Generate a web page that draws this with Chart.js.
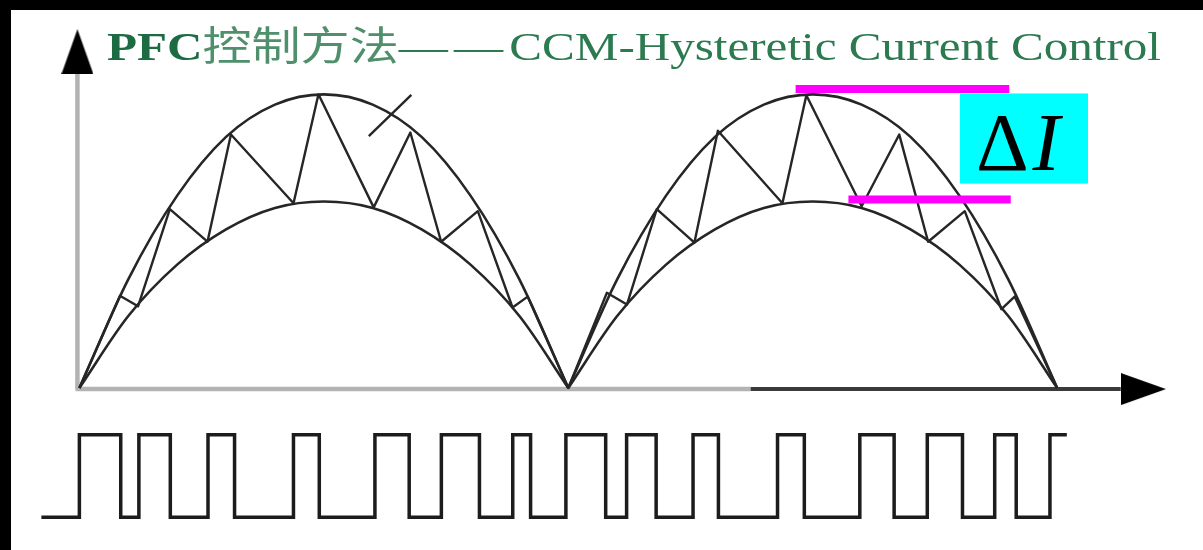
<!DOCTYPE html>
<html>
<head>
<meta charset="utf-8">
<script src="https://cdn.jsdelivr.net/npm/chart.js@4.4.1/dist/chart.umd.min.js"></script>
<style>
    html, body {
        margin: 0;
        padding: 0;
        background: #000;
    }

    #cadre {
        position: absolute;
        left: 0;
        top: 0;
        width: 1203px;
        height: 550px;
        box-sizing: border-box;
        background: #fff;
        border-left: 11px solid #000;
        border-top: 10px solid #000;
    }

    #graphique {
        position: absolute;
        left: 0;
        top: 0;
    }

    #titre {
        position: absolute;
        left: 107px;
        top: 23px;
        font: 40px/40px "Liberation Serif", "Noto Sans CJK SC", serif;
        color: #2b7a50;
        white-space: nowrap;
        transform-origin: 0 0;
    }

    #titre .gras {
        font-weight: bold;
        color: #1d6b42;
    }

    #titre .cjk {
        font-family: "Noto Sans CJK SC", sans-serif;
        color: #4f8f6c;
    }

    #titre .tirets {
        letter-spacing: 5px;
    }
</style>
</head>
<body>
<div id="cadre"></div>
<canvas id="graphique" width="1203" height="550"></canvas>
<div id="titre"><span class="gras">PFC</span><span class="cjk">控制方法</span><span class="tirets">——</span>CCM-Hysteretic Current Control</div>

<script>
// time in ms (two rectified half cycles), current normalised to the upper peak
const envTimeA = [0, 1, 2, 3, 4, 5, 6, 7, 8, 9, 10];
const envTimeB = [10, 11, 12, 13, 14, 15, 16, 17, 18, 19, 20];
const upperEnvA = [0, 0.37, 0.655, 0.855, 0.965, 1.0, 0.965, 0.855, 0.655, 0.37, 0];
const upperEnvB = [0, 0.37, 0.655, 0.855, 0.965, 1.0, 0.965, 0.855, 0.655, 0.37, 0];
const lowerEnvA = [0, 0.245, 0.42, 0.54, 0.613, 0.635, 0.613, 0.54, 0.42, 0.245, 0];
const lowerEnvB = [0, 0.245, 0.42, 0.54, 0.613, 0.635, 0.613, 0.54, 0.42, 0.245, 0];

// hysteretic inductor current: vertices between the two bands
const currentTime = [0, 0.83, 1.20, 1.85, 2.62, 3.10, 4.38, 4.89, 6.02, 6.77, 7.40, 8.15, 8.86, 9.17, 10.0,
    10.79, 11.20, 11.81, 12.58, 13.06, 14.38, 14.87, 16.00, 16.77, 17.36, 18.11, 18.86, 19.13, 20.0];
const currentValue = [0, 0.314, 0.278, 0.609, 0.498, 0.863, 0.629, 1.0, 0.615, 0.870, 0.498, 0.602, 0.274, 0.311, 0,
    0.324, 0.284, 0.609, 0.495, 0.876, 0.629, 0.997, 0.619, 0.863, 0.498, 0.602, 0.268, 0.311, 0];

// gate signal: switching instants and state after each instant
const gateTime = [-0.777, 0, 0.846, 1.217, 1.860, 2.631, 3.174, 4.379, 4.907, 6.045, 6.746, 7.404, 8.183, 8.864, 9.229,
    9.951, 10.765, 11.193, 11.797, 12.552, 13.071, 14.280, 14.828, 15.963, 16.665, 17.343, 18.063, 18.722, 19.162,
    19.852, 20.197];
const gateState = [0, 1, 0, 1, 0, 1, 0, 1, 0, 1, 0, 1, 0, 1, 0,
    1, 0, 1, 0, 1, 0, 1, 0, 1, 0, 1, 0, 1, 0,
    1, 1];
const gateHigh = -0.1595;
const gateLow = -0.4405;

// ΔI band markers
const deltaUpperTime = [14.65, 19.02];
const deltaUpperValue = [1.018, 1.018];
const deltaLowerTime = [15.73, 19.05];
const deltaLowerValue = [0.6415, 0.6415];
const deltaBox = {t0: 18.01, t1: 20.63, i0: 0.696, i1: 1.003};

// short slash crossing the upper band
const slashTime = [5.92, 6.79];
const slashValue = [0.858, 0.998];

// axes
const axisOriginTime = -0.04;
const axisYValue = [-0.004, 1.08];
const axisXGrayTime = [-0.08, 13.73];
const axisXDarkTime = [13.73, 21.3];
const axisXValue = -0.004;
const arrowYValue = 1.1455;
const arrowXTime = 21.765;

// scale bounds so the plot area fills the whole canvas
const X_MIN = -1.5213;
const X_MAX = 22.8803;
const Y_MIN = -0.53512;
const Y_MAX = 1.30435;


function toPoints(xs, ys) {
    return xs.map((x, i) => ({x: x, y: ys[i]}));
}

function lineSet(label, data, color, width, extra) {
    return Object.assign({
        label: label,
        data: data,
        borderColor: color,
        borderWidth: width,
        fill: false,
        pointRadius: 0,
        borderJoinStyle: 'round',
        borderCapStyle: 'butt'
    }, extra || {});
}

// arrow head used as point style (tip pointing up)
const arrowHead = document.createElement('canvas');
arrowHead.width = 32;
arrowHead.height = 45;
const actx = arrowHead.getContext('2d');
actx.fillStyle = '#000';
actx.beginPath();
actx.moveTo(16, 0);
actx.lineTo(32, 45);
actx.lineTo(0, 45);
actx.closePath();
actx.fill();

const deltaLabel = {
    id: 'deltaLabel',
    afterDatasetsDraw(chart) {
        const {ctx, scales} = chart;
        const left = scales.x.getPixelForValue(deltaBox.t0);
        const right = scales.x.getPixelForValue(deltaBox.t1);
        const top = scales.y.getPixelForValue(deltaBox.i1);
        const bottom = scales.y.getPixelForValue(deltaBox.i0);
        ctx.save();
        ctx.fillStyle = '#00ffff';
        ctx.fillRect(left, top, right - left, bottom - top);
        ctx.fillStyle = '#000';
        ctx.textBaseline = 'alphabetic';
        ctx.font = '82px "Liberation Serif"';
        ctx.fillText('Δ', left + 16, top + 77);
        const w = ctx.measureText('Δ').width;
        ctx.font = 'italic 82px "Liberation Serif"';
        ctx.fillText('I', left + 20 + w, top + 77);
        ctx.restore();
    }
};

const curveColor = '#262626';

const datasets = [
    lineSet('ΔI haut', toPoints(deltaUpperTime, deltaUpperValue), '#ff00ff', 8),
    lineSet('ΔI bas', toPoints(deltaLowerTime, deltaLowerValue), '#ff00ff', 8),
    lineSet('flèche y', [{x: axisOriginTime, y: arrowYValue}], '#000', 0,
        {showLine: false, pointRadius: 5, pointStyle: arrowHead, pointRotation: 0}),
    lineSet('flèche x', [{x: arrowXTime, y: axisXValue}], '#000', 0,
        {showLine: false, pointRadius: 5, pointStyle: arrowHead, pointRotation: 90}),
    lineSet('courant', toPoints(currentTime, currentValue), curveColor, 2.4),
    lineSet('enveloppe haute A', toPoints(envTimeA, upperEnvA), curveColor, 2.6, {cubicInterpolationMode: 'monotone'}),
    lineSet('enveloppe haute B', toPoints(envTimeB, upperEnvB), curveColor, 2.6, {cubicInterpolationMode: 'monotone'}),
    lineSet('enveloppe basse A', toPoints(envTimeA, lowerEnvA), curveColor, 2.6, {cubicInterpolationMode: 'monotone'}),
    lineSet('enveloppe basse B', toPoints(envTimeB, lowerEnvB), curveColor, 2.6, {cubicInterpolationMode: 'monotone'}),
    lineSet('repère', toPoints(slashTime, slashValue), curveColor, 2.4),
    lineSet('commande', toPoints(gateTime, gateState.map(s => s ? gateHigh : gateLow)), '#1c1c1c', 3.5,
        {stepped: true, borderJoinStyle: 'miter'}),
    lineSet('axe x foncé', toPoints(axisXDarkTime, [axisXValue, axisXValue]), '#3a3a3a', 4),
    lineSet('axe x', toPoints(axisXGrayTime, [axisXValue, axisXValue]), '#b3b3b3', 4.5),
    lineSet('axe y', toPoints([axisOriginTime, axisOriginTime], axisYValue), '#b3b3b3', 4.5)
];

new Chart(document.getElementById('graphique').getContext('2d'), {
    type: 'line',
    data: {
        datasets: datasets
    },
    options: {
        responsive: false,
        animation: false,
        events: [],
        layout: {
            padding: 0
        },
        scales: {
            x: {
                type: 'linear',
                display: false,
                bounds: 'data',
                min: X_MIN,
                max: X_MAX
            },
            y: {
                type: 'linear',
                display: false,
                bounds: 'data',
                min: Y_MIN,
                max: Y_MAX
            }
        },
        plugins: {
            legend: {display: false},
            tooltip: {enabled: false},
            title: {display: false}
        },
        elements: {
            point: {radius: 0},
            line: {tension: 0}
        }
    },
    plugins: [deltaLabel]
});

// stretch the heading horizontally like the source picture
function ajusterTitre() {
    const titre = document.getElementById('titre');
    titre.style.transform = 'none';
    const largeur = titre.getBoundingClientRect().width;
    titre.style.transform = 'scaleX(' + (1054 / largeur) + ')';
}
ajusterTitre();
if (document.fonts && document.fonts.ready) {
    document.fonts.ready.then(ajusterTitre);
}
</script>
</body>
</html>
